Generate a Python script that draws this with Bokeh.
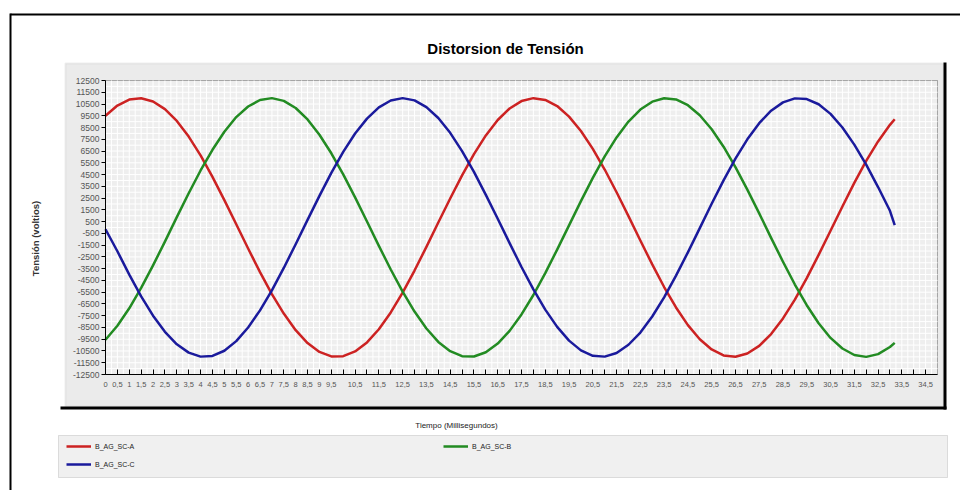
import math
from bokeh.plotting import figure
from bokeh.models import FixedTicker, BoxAnnotation, Label, Legend, LegendItem, Range1d
from bokeh.embed import file_html
from bokeh.resources import INLINE

# ---------------- data ----------------
t_ms = [i * 0.5 for i in range(67)] + [33.2]

fase_a = [9500, 10370, 10880, 10990, 10720, 10070, 9060, 7730, 6130, 4300,
          2330, 280, -1790, -3790, -5660, -7320, -8730, -9830, -10580, -10960,
          -10940, -10540, -9770, -8650, -7220, -5540, -3660, -1650, 420, 2470,
          4430, 6240, 7830, 9140, 10120, 10750, 11000, 10850, 10330, 9430,
          8200, 6690, 4930, 3000, 970, -1100, -3140, -5060, -6800, -8300,
          -9500, -10370, -10880, -10990, -10720, -10070, -9060, -7730, -6130, -4300,
          -2330, -280, 1790, 3790, 5660, 7320, 8730, 9210]

fase_b = [-9550, -8360, -6870, -5140, -3220, -1200, 880, 2910, 4850, 6610,
          8140, 9390, 10290, 10840, 11000, 10770, 10160, 9190, 7890, 6310,
          4520, 2560, 510, -1560, -3570, -5460, -7150, -8590, -9730, -10520,
          -10940, -10970, -10610, -9870, -8790, -7390, -5740, -3880, -1880, 180,
          2240, 4220, 6050, 7660, 9010, 10030, 10700, 10990, 10890, 10400,
          9550, 8360, 6870, 5140, 3220, 1200, -880, -2910, -4850, -6610,
          -8140, -9390, -10290, -10840, -11000, -10770, -10160, -9810]

fase_c = [-150, -2020, -4010, -5860, -7500, -8870, -9930, -10640, -10980, -10920,
          -10480, -9660, -8500, -7050, -5340, -3440, -1420, 650, 2690, 4640,
          6430, 7990, 9260, 10210, 10800, 11000, 10810, 10240, 9310, 8050,
          6500, 4730, 2780, 740, -1330, -3360, -5260, -6980, -8450, -9620,
          -10450, -10910, -10980, -10670, -9970, -8930, -7570, -5940, -4090, -2110,
          -50, 2020, 4010, 5860, 7500, 8870, 9930, 10640, 10980, 10920,
          10480, 9660, 8500, 7050, 5340, 3440, 1420, 200]

series_names = ["B_AG_SC-A", "B_AG_SC-B", "B_AG_SC-C"]

x_ticks = [i * 0.5 for i in range(70)]
x_tick_labels = ["0", "0,5", "1", "1,5", "2", "2,5", "3", "3,5", "4", "4,5",
                 "5", "5,5", "6", "6,5", "7", "7,5", "8", "8,5", "9", "9,5",
                 "", "10,5", "", "11,5", "", "12,5", "", "13,5", "", "14,5",
                 "", "15,5", "", "16,5", "", "17,5", "", "18,5", "", "19,5",
                 "", "20,5", "", "21,5", "", "22,5", "", "23,5", "", "24,5",
                 "", "25,5", "", "26,5", "", "27,5", "", "28,5", "", "29,5",
                 "", "30,5", "", "31,5", "", "32,5", "", "33,5", "", "34,5"]

y_ticks = [-12500, -11500, -10500, -9500, -8500, -7500, -6500, -5500, -4500,
           -3500, -2500, -1500, -500, 500, 1500, 2500, 3500, 4500, 5500, 6500,
           7500, 8500, 9500, 10500, 11500, 12500]
y_tick_labels = [str(v) for v in y_ticks]

X_MIN, X_MAX = 0.0, 35.0
Y_MIN, Y_MAX = -12500.0, 12500.0

# ---------------- layout geometry (page pixels) ----------------
FONT = "Liberation Sans"
W, H = 960, 490
PAGE_OFF = 0
PA_L, PA_R, PA_T, PA_B = 105, 937, 80, 374      # plot area in page px

kx = (PA_R - PA_L) / (X_MAX - X_MIN)
ky = (PA_B - PA_T) / (Y_MAX - Y_MIN)
x_start = X_MIN - (PA_L - PAGE_OFF) / kx
x_end = X_MAX + (PAGE_OFF + W - PA_R) / kx
y_end = Y_MAX + (PA_T - PAGE_OFF) / ky
y_start = Y_MIN - (PAGE_OFF + H - PA_B) / ky


def sx(px):
    return px - PAGE_OFF


def sy(py):
    return PAGE_OFF + H - py


p = figure(width=W, height=H, output_backend="svg", toolbar_location=None,
           x_range=Range1d(x_start, x_end), y_range=Range1d(y_start, y_end),
           min_border=0, min_border_left=0, min_border_right=0,
           min_border_top=0, min_border_bottom=0)
p.border_fill_color = "white"
p.background_fill_color = "white"
p.outline_line_color = None
p.xgrid.visible = False
p.ygrid.visible = False


def box(l, r, t, b, fill, line=None, lw=1):
    bx = BoxAnnotation(left=sx(l), right=sx(r), top=sy(t), bottom=sy(b),
                       left_units="screen", right_units="screen",
                       top_units="screen", bottom_units="screen",
                       fill_color=fill, fill_alpha=1.0,
                       line_color=line, line_width=lw, level="image")
    p.add_layout(bx)
    return bx


box(10, 960, 13, 15, "black")                    # outer top border
box(9, 11, 13, 490, "black")                     # outer left border
box(65, 943, 63, 406, "#ebebeb", "#c6c6c6", 2)   # chart panel
box(943, 946, 62, 409, "black")                  # panel shadow right
box(60, 946, 406, 409, "black")                  # panel shadow bottom
box(58, 947, 435, 477, "#f0f0f0", "#9a9a9a", 1)  # legend box
p.add_layout(BoxAnnotation(left=X_MIN, right=X_MAX, bottom=Y_MIN, top=Y_MAX,
                           fill_color="#eeeeee", fill_alpha=1.0,
                           line_color="black", line_width=1, level="image"))

# grid (white lines every 0.25 ms / 500 V)
gx = [X_MIN + 0.25 * i for i in range(1, 140)]
gy = [Y_MIN + 500 * i for i in range(1, 50)]
p.segment(x0=gx, y0=[Y_MIN] * len(gx), x1=gx, y1=[Y_MAX] * len(gx),
          line_color="white", line_width=1)
p.segment(x0=[X_MIN] * len(gy), y0=gy, x1=[X_MAX] * len(gy), y1=gy,
          line_color="white", line_width=1)

# axes drawn at the plot-area edges
p.xaxis.fixed_location = Y_MIN
p.yaxis.fixed_location = X_MIN
p.xaxis.bounds = (X_MIN, X_MAX)
p.yaxis.bounds = (Y_MIN, Y_MAX)
p.xaxis.ticker = FixedTicker(ticks=x_ticks, minor_ticks=[])
p.yaxis.ticker = FixedTicker(ticks=y_ticks, minor_ticks=[])
p.xaxis.major_label_overrides = {t: l for t, l in zip(x_ticks, x_tick_labels)}
p.yaxis.major_label_overrides = {t: l for t, l in zip(y_ticks, y_tick_labels)}

for ax in (p.xaxis, p.yaxis):
    ax.axis_line_color = "black"
    ax.major_tick_line_color = "black"
    ax.minor_tick_line_color = None
    ax.major_label_text_font = FONT
    ax.major_label_text_color = "#555555"

p.xaxis.major_tick_in = 5
p.xaxis.major_tick_out = 0
p.xaxis.major_label_standoff = 7
p.xaxis.major_label_text_font_size = "7.5px"
p.yaxis.major_tick_in = 0
p.yaxis.major_tick_out = 4
p.yaxis.major_label_standoff = 2
p.yaxis.major_label_text_font_size = "8.5px"

# series
colors = ["#cc2222", "#228b22", "#1a1a9c"]
r_a = p.line(t_ms, fase_a, line_color=colors[0], line_width=2.5, line_join="round")
r_b = p.line(t_ms, fase_b, line_color=colors[1], line_width=2.5, line_join="round")
r_c = p.line(t_ms, fase_c, line_color=colors[2], line_width=2.5, line_join="round")

# texts
p.add_layout(Label(x=sx(505), y=sy(48), x_units="screen", y_units="screen",
                   text="Distorsion de Tensión", text_font=FONT,
                   text_font_style="bold", text_font_size="15px",
                   text_align="center", text_baseline="middle", text_color="black"))
p.add_layout(Label(x=sx(456), y=sy(425), x_units="screen", y_units="screen",
                   text="Tiempo (Millisegundos)", text_font=FONT,
                   text_font_size="8px", text_align="center",
                   text_baseline="middle", text_color="#222222"))
p.add_layout(Label(x=sx(35), y=sy(238), x_units="screen", y_units="screen",
                   angle=math.pi / 2, text="Tensión (voltios)",
                   text_font=FONT, text_font_style="bold",
                   text_font_size="9.5px", text_align="center",
                   text_baseline="middle", text_color="#333333"))


def make_legend(items, loc):
    lg = Legend(items=items, location=loc, border_line_color=None,
                background_fill_alpha=0, padding=0, margin=0, spacing=6,
                glyph_width=25, glyph_height=12, label_height=12,
                label_standoff=4, label_text_font=FONT,
                label_text_font_size="7px", label_text_color="#222222")
    p.add_layout(lg)
    return lg


make_legend([LegendItem(label=series_names[0], renderers=[r_a]),
             LegendItem(label=series_names[2], renderers=[r_c])],
            (sx(66), sy(470)))
make_legend([LegendItem(label=series_names[1], renderers=[r_b])],
            (sx(443), sy(452)))

open("out.html", "w").write(file_html(p, INLINE))
